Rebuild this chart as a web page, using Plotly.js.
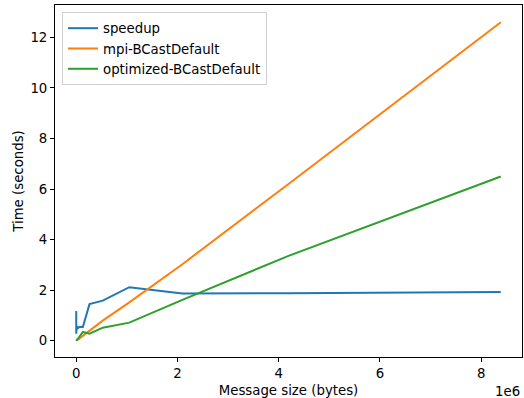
<!DOCTYPE html>
<html>
<head>
<meta charset="utf-8">
<script src="https://cdn.plot.ly/plotly-3.0.1.min.js"></script>
<style>
  html, body { margin: 0; padding: 0; background: #fff; }
  #chart { width: 524px; height: 398px; }
</style>
</head>
<body>
<div id="chart"></div>
<script>
// Message sizes in bytes (powers of two, 1 B .. 8 MiB)
const messageSizes = [
  1, 2, 4, 8, 16, 32, 64, 128, 256, 512, 1024, 2048, 4096, 8192,
  16384, 32768, 65536, 131072, 262144, 524288, 1048576, 2097152,
  4194304, 8388608
];

// Ratio of default broadcast time to optimized broadcast time
const speedup = [
  0.85, 1.18, 0.95, 0.72, 0.28, 0.60, 0.90, 0.50, 0.70, 0.65, 0.55, 0.50,
  0.60, 0.58, 0.55, 0.50, 0.56, 0.55, 1.45, 1.59, 2.12, 1.87, 1.88, 1.93
];

// Time (seconds) for the MPI default broadcast
const mpiBCastDefault = [
  0.00, 0.00, 0.00, 0.00, 0.00, 0.00, 0.00, 0.00, 0.00, 0.00, 0.00, 0.01,
  0.01, 0.02, 0.03, 0.05, 0.10, 0.20, 0.40, 0.80, 1.52, 3.03, 6.20, 12.60
];

// Time (seconds) for the optimized broadcast
const optimizedBCastDefault = [
  0.00, 0.00, 0.00, 0.00, 0.00, 0.00, 0.00, 0.00, 0.00, 0.00, 0.00, 0.01,
  0.02, 0.03, 0.05, 0.08, 0.17, 0.35, 0.28, 0.52, 0.72, 1.62, 3.36, 6.50
];

const xTickVals = [0, 2e6, 4e6, 6e6, 8e6];
const xTickText = ['0', '2', '4', '6', '8'];
const yTickVals = [0, 2, 4, 6, 8, 10, 12];

const FONT = 'DejaVu Sans, sans-serif';
const FS = 13.3;

const traces = [
  { x: messageSizes, y: speedup, name: 'speedup',
    mode: 'lines', line: { color: '#1f77b4', width: 2 } },
  { x: messageSizes, y: mpiBCastDefault, name: 'mpi-BCastDefault',
    mode: 'lines', line: { color: '#ff7f0e', width: 2 } },
  { x: messageSizes, y: optimizedBCastDefault, name: 'optimized-BCastDefault',
    mode: 'lines', line: { color: '#2ca02c', width: 2 } }
];

const axisCommon = {
  showgrid: false,
  zeroline: false,
  showline: true,
  mirror: true,
  linecolor: '#000',
  linewidth: 1,
  ticks: 'outside',
  ticklen: 4,
  tickwidth: 1,
  tickcolor: '#000',
  tickfont: { family: FONT, size: FS, color: '#000' }
};

const layout = {
  width: 524,
  height: 398,
  margin: { l: 55, r: 2, t: 5, b: 41 },
  paper_bgcolor: '#fff',
  plot_bgcolor: '#fff',
  font: { family: FONT, size: FS, color: '#000' },
  showlegend: true,
  legend: {
    x: 0.015, y: 0.98, xanchor: 'left', yanchor: 'top',
    bgcolor: 'rgba(255,255,255,0.8)',
    bordercolor: '#d0d0d0', borderwidth: 1,
    font: { family: FONT, size: FS, color: '#000' },
    tracegroupgap: 0
  },
  xaxis: Object.assign({}, axisCommon, {
    range: [-419430, 8808038],
    tickmode: 'array', tickvals: xTickVals, ticktext: xTickText,
    title: { text: 'Message size (bytes)', font: { family: FONT, size: FS }, standoff: 6 }
  }),
  yaxis: Object.assign({}, axisCommon, {
    range: [-0.64, 13.28],
    tickmode: 'array', tickvals: yTickVals,
    title: { text: 'Time (seconds)', font: { family: FONT, size: FS }, standoff: 3 }
  }),
  annotations: [{
    text: '1e6', xref: 'paper', yref: 'paper', x: 1, y: 0,
    xanchor: 'right', yanchor: 'top', yshift: -25, showarrow: false,
    font: { family: FONT, size: FS, color: '#000' }
  }]
};

Plotly.newPlot('chart', traces, layout, { displayModeBar: false, staticPlot: true });
</script>
</body>
</html>
